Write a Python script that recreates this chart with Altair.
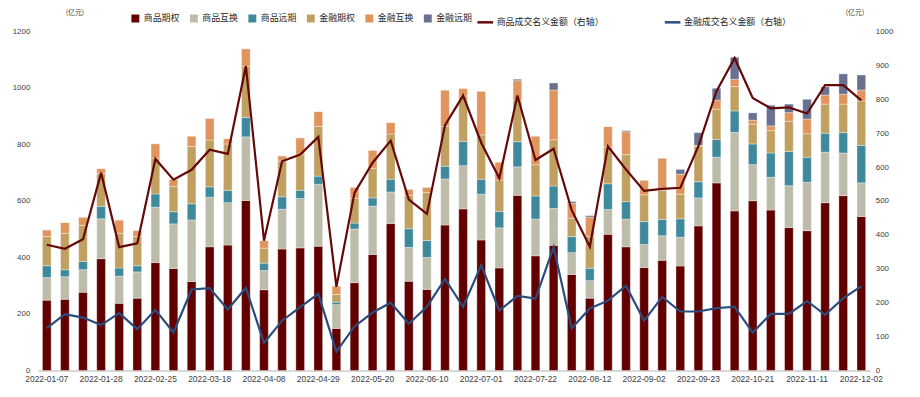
import altair as alt
import pandas as pd

dates = ["2022-01-07","2022-01-14","2022-01-21","2022-01-28","2022-02-11","2022-02-18","2022-02-25",
         "2022-03-04","2022-03-11","2022-03-18","2022-03-25","2022-04-01","2022-04-08","2022-04-15",
         "2022-04-22","2022-04-29","2022-05-06","2022-05-13","2022-05-20","2022-05-27","2022-06-03",
         "2022-06-10","2022-06-17","2022-06-24","2022-07-01","2022-07-08","2022-07-15","2022-07-22",
         "2022-07-29","2022-08-05","2022-08-12","2022-08-19","2022-08-26","2022-09-02","2022-09-09",
         "2022-09-16","2022-09-23","2022-09-30","2022-10-14","2022-10-21","2022-10-28","2022-11-04",
         "2022-11-11","2022-11-18","2022-11-25","2022-12-02"]

label_dates = ["2022-01-07","2022-01-28","2022-02-25","2022-03-18","2022-04-08","2022-04-29",
               "2022-05-20","2022-06-10","2022-07-01","2022-07-22","2022-08-12","2022-09-02",
               "2022-09-23","2022-10-21","2022-11-11","2022-12-02"]

# 商品期权
comm_option = [249,252,277,396,238,256,382,361,315,438,444,602,286,430,434,440,149,311,411,520,316,287,515,
               572,462,363,620,406,443,340,256,482,438,365,390,370,512,664,565,601,568,506,495,594,619,545]
# 商品互换
comm_swap = [80,80,80,141,96,93,196,158,218,175,150,225,68,141,175,219,84,190,171,112,120,113,163,
             153,162,142,101,130,131,77,62,88,98,81,87,102,99,91,278,128,116,148,171,179,151,119]
# 商品远期
comm_forward = [42,25,29,44,29,22,47,43,57,37,44,69,26,44,29,29,9,21,29,45,66,60,45,
                86,53,58,89,82,79,57,44,91,62,81,58,65,57,63,76,73,86,121,89,67,72,133]
# 金融期权
fin_option = [103,129,128,116,123,103,127,89,203,166,164,181,53,126,125,176,27,87,105,160,118,170,141,
              161,157,111,147,110,164,65,113,130,166,95,102,87,126,107,86,70,79,107,83,103,101,157]
# 金融互换
fin_swap = [24,38,29,18,47,22,51,26,37,77,19,62,27,19,61,53,30,40,64,41,22,19,129,
            27,155,64,69,102,176,53,68,73,81,52,115,71,3,32,26,14,17,31,52,32,35,39]
# 金融远期
fin_forward = [0,0,0,0,0,0,0,0,0,0,0,0,0,0,0,0,0,0,0,0,0,0,0,
               0,0,0,5,0,25,6,5,0,4,0,0,17,45,42,78,26,73,30,70,29,72,53]

# 商品成交名义金额（右轴）
comm_notional = [371,359,387,583,364,375,624,563,592,651,639,898,383,617,637,689,247,524,613,678,504,462,724,
                 811,672,567,811,621,654,473,365,661,593,530,536,539,662,824,922,804,773,776,758,842,842,797]
# 金融成交名义金额（右轴）
fin_notional = [125,166,156,134,169,122,179,112,239,243,180,244,81,147,187,226,56,130,171,200,138,188,270,
                188,310,177,220,212,364,125,183,206,250,147,217,174,174,184,188,112,167,167,205,164,213,249]

series = ["商品期权","商品互换","商品远期","金融期权","金融互换","金融远期"]
series_vals = [comm_option, comm_swap, comm_forward, fin_option, fin_swap, fin_forward]
colors = ["#620000","#BDBBA9","#3F899D","#C0A060","#E0955F","#6A7090"]

line_names = ["商品成交名义金额（右轴）","金融成交名义金额（右轴）"]
line_vals = [comm_notional, fin_notional]
line_colors = ["#650808","#2A4C7D"]

rows = []
for k, (name, vals) in enumerate(zip(series, series_vals)):
    for d, v in zip(dates, vals):
        rows.append({"date": d, "series": name, "value": v, "ord": k})
bars_df = pd.DataFrame(rows)

lrows = []
for name, vals in zip(line_names, line_vals):
    for d, v in zip(dates, vals):
        lrows.append({"date": d, "line": name, "amount": v})
lines_df = pd.DataFrame(lrows)

CJK = "Noto Sans CJK SC"
NUM = "Liberation Sans"

x_enc = alt.X("date:N", sort=dates,
              scale=alt.Scale(paddingInner=0.52, paddingOuter=0.26),
              axis=alt.Axis(values=label_dates, title=None, labelAngle=0, ticks=False,
                            domainColor="#D9D9D9", domainWidth=2, labelFont=NUM,
                            labelFontSize=8.5, labelColor="#404040", labelPadding=4))

bars = alt.Chart(bars_df).mark_bar(stroke="#ffffff", strokeWidth=0.5, strokeOpacity=0.7).encode(
    x=x_enc,
    y=alt.Y("value:Q", stack="zero",
            scale=alt.Scale(domain=[0, 1200], nice=False),
            axis=alt.Axis(values=list(range(0, 1201, 200)), format="d", title="(亿元)", titleAngle=0,
                          titleX=37, titleY=-16, titleAlign="center", titleFont=CJK,
                          titleFontSize=7, titleFontWeight="normal", titleColor="#404040",
                          grid=False, domain=False, ticks=False, labelFont=NUM,
                          labelFontSize=8, labelColor="#404040", labelPadding=8)),
    color=alt.Color("series:N", scale=alt.Scale(domain=series, range=colors),
                    legend=alt.Legend(title=None, orient="none", direction="horizontal",
                                      legendX=93, legendY=-19, symbolType="square",
                                      symbolSize=90, labelFont=CJK, labelFontSize=9,
                                      labelColor="#262626", columnPadding=5, labelOffset=3)),
    order=alt.Order("ord:Q", sort="ascending"),
)

lines = alt.Chart(lines_df).mark_line(strokeWidth=2.2).encode(
    x=x_enc,
    y=alt.Y("amount:Q", scale=alt.Scale(domain=[0, 1000], nice=False),
            axis=alt.Axis(orient="right", values=list(range(0, 1001, 100)), format="d", title="(亿元)",
                          titleAngle=0, titleX=-16, titleY=-16, titleAlign="center",
                          titleFont=CJK, titleFontSize=7, titleFontWeight="normal",
                          titleColor="#404040", grid=False, domain=False, ticks=False,
                          labelFont=NUM, labelFontSize=8, labelColor="#404040", labelPadding=5)),
    stroke=alt.Stroke("line:N", scale=alt.Scale(domain=line_names, range=line_colors),
                      legend=alt.Legend(title=None, orient="none", direction="horizontal",
                                        legendX=442, legendY=-19, symbolType="stroke",
                                        symbolSize=250, symbolStrokeWidth=2.5, labelFont=CJK,
                                        labelFontSize=9, labelColor="#262626", columnPadding=55,
                                        labelOffset=2)),
)

chart = alt.layer(bars, lines).resolve_scale(y="independent").properties(
    width=840, height=342,
    autosize=alt.AutoSizeParams(type="none"),
    padding={"left": 30, "top": 22, "right": 42, "bottom": 22},
).configure_view(stroke=None)

chart.save("out.html", embed_options={"renderer": "svg", "actions": False})
